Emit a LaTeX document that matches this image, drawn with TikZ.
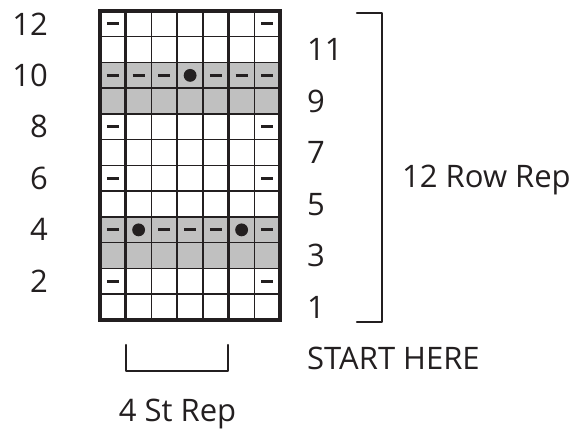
\documentclass[tikz,border=0pt]{standalone}
\usepackage{fontspec}
\setmainfont{Open Sans}
\usepackage{xcolor}
\usetikzlibrary{calc,positioning}
\definecolor{chartInk}{RGB}{35,31,32}
\definecolor{chartGray}{RGB}{192,192,192}
\tikzset{
    chartlabel/.style={text=chartInk, inner sep=0pt, font=\fontsize{31}{36}\selectfont},
    repbracket/.style={chartInk, line width=2pt, line cap=round, line join=round}
}

\begin{document}
\begin{tikzpicture}[x=25.75pt,y=25.75pt]
    \useasboundingbox (-3.883,-4.233) rectangle (18.369,12.427);

    % shaded rows
    \fill[chartGray] (0,2) rectangle (7,4);
    \fill[chartGray] (0,8) rectangle (7,10);

    % chart grid
    \draw[chartInk, line width=1.5pt, step=1] (0,0) grid (7,12);
    \draw[chartInk, line width=2.6pt] (1,0)--(1,12) (5,0)--(5,12);
    \draw[chartInk, line width=4pt] (0,0) rectangle (7,12);

    % purl bars and bobbles
    \foreach \c/\r in {1/2,7/2,1/4,3/4,4/4,5/4,7/4,1/6,7/6,1/8,7/8,1/10,2/10,3/10,5/10,6/10,7/10,1/12,7/12}
        \draw[chartInk, line width=3pt] (\c-0.733,\r-0.5)--(\c-0.267,\r-0.5);
    \foreach \c/\r in {2/4,6/4,4/10}
        \fill[chartInk] (\c-0.5,\r-0.5) circle (0.25);

    % row numbers
    \foreach \r in {2,4,...,12}
        \node[chartlabel, anchor=east] (rowL\r) at (-2.02,\r-0.5) {\r};
    \foreach \r in {1,3,...,11}
        \node[chartlabel, anchor=west] (rowR\r) at (8.04,\r-0.5) {\r};

    % row repeat
    \coordinate (rowRepTop) at (10.95,11.92);
    \coordinate (rowRepBot) at (10.95,-0.08);
    \draw[repbracket] ($(rowRepTop)+(-0.97,0)$) -- (rowRepTop) -- (rowRepBot) -- ($(rowRepBot)+(-0.97,0)$);
    \node[chartlabel, anchor=base west] (rowRep) at (11.73,5.13) {12 Row Rep};

    % stitch repeat
    \coordinate (stRepL) at (1.01,-1.98);
    \coordinate (stRepR) at (4.97,-1.98);
    \draw[repbracket] ($(stRepL)+(0,1.01)$) -- (stRepL) -- (stRepR) -- ($(stRepR)+(0,1.01)$);
    \node[chartlabel, anchor=base] (stRep) at (3.01,-3.96) {4 St Rep};
    \node[chartlabel, anchor=base west] (startHere) at (8.04,-1.94) {START HERE};
\end{tikzpicture}
\end{document}
